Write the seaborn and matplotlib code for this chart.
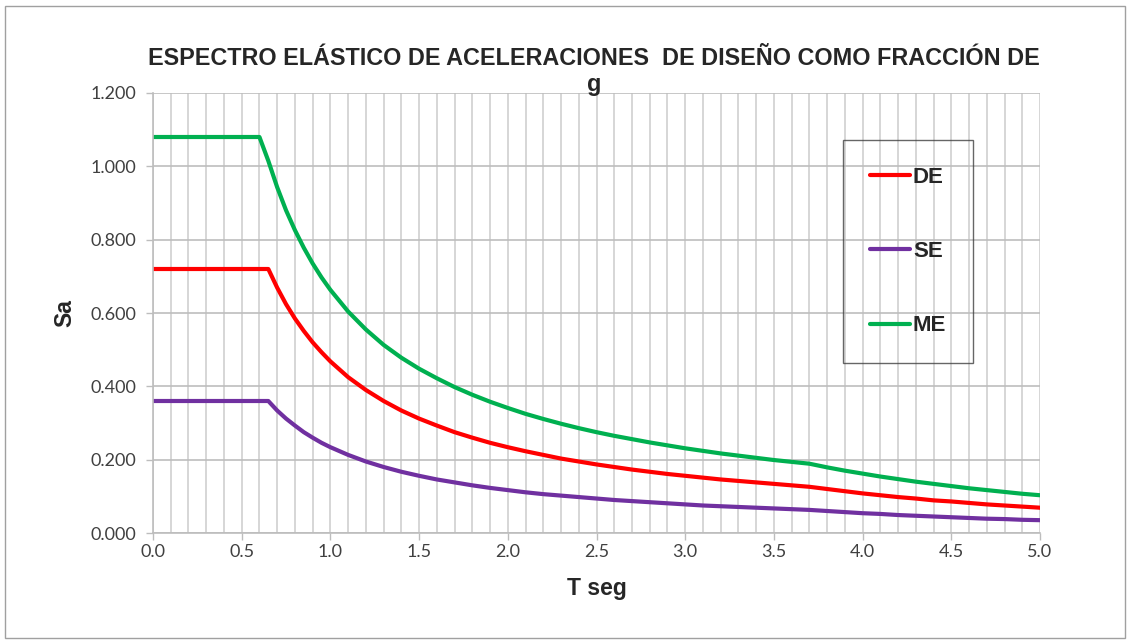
import numpy as np
import pandas as pd
import matplotlib
matplotlib.use("Agg")
import matplotlib.pyplot as plt
from matplotlib.patches import Rectangle
from matplotlib.ticker import MultipleLocator, FormatStrFormatter
import seaborn as sns

# Period (s)
periodo = [0.0, 0.1, 0.2, 0.3, 0.4, 0.5, 0.6, 0.65, 0.7, 0.75, 0.8, 0.85, 0.9, 0.95,
           1.0, 1.1, 1.2, 1.3, 1.4, 1.5, 1.6, 1.7, 1.8, 1.9, 2.0, 2.1, 2.2, 2.3, 2.4,
           2.5, 2.6, 2.7, 2.8, 2.9, 3.0, 3.1, 3.2, 3.3, 3.4, 3.5, 3.6, 3.7, 3.8, 3.9,
           4.0, 4.1, 4.2, 4.3, 4.4, 4.5, 4.6, 4.7, 4.8, 4.9, 5.0]

# Spectral acceleration (fraction of g) for each earthquake level
sa_de = [0.720, 0.720, 0.720, 0.720, 0.720, 0.720, 0.720, 0.720, 0.669, 0.624, 0.585,
         0.551, 0.520, 0.493, 0.468, 0.425, 0.390, 0.360, 0.334, 0.312, 0.293, 0.275,
         0.260, 0.246, 0.234, 0.223, 0.213, 0.203, 0.195, 0.187, 0.180, 0.173, 0.167,
         0.161, 0.156, 0.151, 0.146, 0.142, 0.138, 0.134, 0.130, 0.126, 0.120, 0.114,
         0.108, 0.103, 0.098, 0.094, 0.089, 0.086, 0.082, 0.078, 0.075, 0.072, 0.069]

sa_se = [0.360, 0.360, 0.360, 0.360, 0.360, 0.360, 0.360, 0.360, 0.334, 0.312, 0.293,
         0.275, 0.260, 0.246, 0.234, 0.213, 0.195, 0.180, 0.167, 0.156, 0.146, 0.138,
         0.130, 0.123, 0.117, 0.111, 0.106, 0.102, 0.098, 0.094, 0.090, 0.087, 0.084,
         0.081, 0.078, 0.075, 0.073, 0.071, 0.069, 0.067, 0.065, 0.063, 0.060, 0.057,
         0.054, 0.052, 0.049, 0.047, 0.045, 0.043, 0.041, 0.039, 0.038, 0.036, 0.035]

sa_me = [1.080, 1.080, 1.080, 1.080, 1.080, 1.080, 1.080, 1.015, 0.943, 0.880, 0.826,
         0.778, 0.735, 0.697, 0.663, 0.604, 0.555, 0.513, 0.478, 0.448, 0.422, 0.398,
         0.377, 0.358, 0.341, 0.325, 0.311, 0.298, 0.286, 0.275, 0.265, 0.256, 0.247,
         0.239, 0.231, 0.224, 0.217, 0.211, 0.205, 0.199, 0.194, 0.189, 0.179, 0.170,
         0.162, 0.154, 0.147, 0.140, 0.134, 0.128, 0.122, 0.117, 0.112, 0.107, 0.103]

niveles = ["DE", "SE", "ME"]
colores = {"DE": "#FF0000", "SE": "#7030A0", "ME": "#00B050"}

titulo_1 = "ESPECTRO ELÁSTICO DE ACELERACIONES  DE DISEÑO COMO FRACCIÓN DE"
titulo_2 = "g"

df = pd.concat([
    pd.DataFrame({"T": periodo, "Sa": sa_de, "Nivel": "DE"}),
    pd.DataFrame({"T": periodo, "Sa": sa_se, "Nivel": "SE"}),
    pd.DataFrame({"T": periodo, "Sa": sa_me, "Nivel": "ME"}),
], ignore_index=True)

sns.set_theme(style="white")
plt.rcParams["font.family"] = ["Lato", "DejaVu Sans"]

W, H = 1130, 642
fig = plt.figure(figsize=(W / 100, H / 100), dpi=100)
ax = fig.add_axes([153 / W, 1 - 533 / H, (1040 - 153) / W, (533 - 93) / H])

# Outer chart border
fig.patches.append(Rectangle((5 / W, 4 / H), 1120 / W, 632 / H,
                             transform=fig.transFigure, fill=False,
                             edgecolor="#A0A0A0", linewidth=1.0))

sns.lineplot(data=df, x="T", y="Sa", hue="Nivel", hue_order=niveles,
             palette=colores, estimator=None, sort=False, linewidth=3.0, ax=ax)

ax.set_xlim(0, 5.0)
ax.set_ylim(0, 1.2)
ax.xaxis.set_major_locator(MultipleLocator(0.5))
ax.xaxis.set_minor_locator(MultipleLocator(0.1))
ax.yaxis.set_major_locator(MultipleLocator(0.2))
ax.xaxis.set_major_formatter(FormatStrFormatter("%.1f"))
ax.yaxis.set_major_formatter(FormatStrFormatter("%.3f"))

ax.grid(True, which="major", axis="y", color="#BDBDBD", linewidth=1.2)
ax.grid(True, which="both", axis="x", color="#D0D0D0", linewidth=1.2)
ax.set_axisbelow(True)

for side in ["top", "right"]:
    ax.spines[side].set_visible(False)
for side in ["left", "bottom"]:
    ax.spines[side].set_color("#BDBDBD")
    ax.spines[side].set_linewidth(1.2)

ax.tick_params(axis="both", which="major", length=5, width=1.0, color="#BDBDBD",
               labelsize=13, labelcolor="#404040", direction="out",
               bottom=True, left=True)
ax.tick_params(axis="x", which="minor", length=0)
ax.tick_params(axis="x", pad=3)
ax.tick_params(axis="y", pad=7)

ax.set_xlabel("T seg", fontsize=16.5, fontweight="bold", family=["Liberation Sans"],
              labelpad=12)
ax.set_ylabel("Sa", fontsize=16.5, fontweight="bold", family=["Liberation Sans"],
              labelpad=10)

title_kw = dict(ha="center", va="baseline", fontsize=16.8, fontweight="bold",
                family=["Liberation Sans"])
fig.text(594 / W, 1 - 65 / H, titulo_1, **title_kw)
fig.text(594 / W, 1 - 91 / H, titulo_2, **title_kw)

leg = ax.legend(loc="upper left", bbox_to_anchor=(843 / W, 1 - 140 / H),
                bbox_transform=fig.transFigure, frameon=True, fancybox=False,
                prop={"family": "Liberation Sans", "weight": "bold", "size": 16},
                handlelength=1.8, handletextpad=0.15, labelspacing=2.4,
                borderpad=1.2, borderaxespad=0)
leg.get_frame().set_facecolor("none")
leg.get_frame().set_edgecolor("#404040")
leg.get_frame().set_linewidth(1.0)
for line in leg.get_lines():
    line.set_linewidth(3.0)

fig.savefig("out.png", dpi=100)
